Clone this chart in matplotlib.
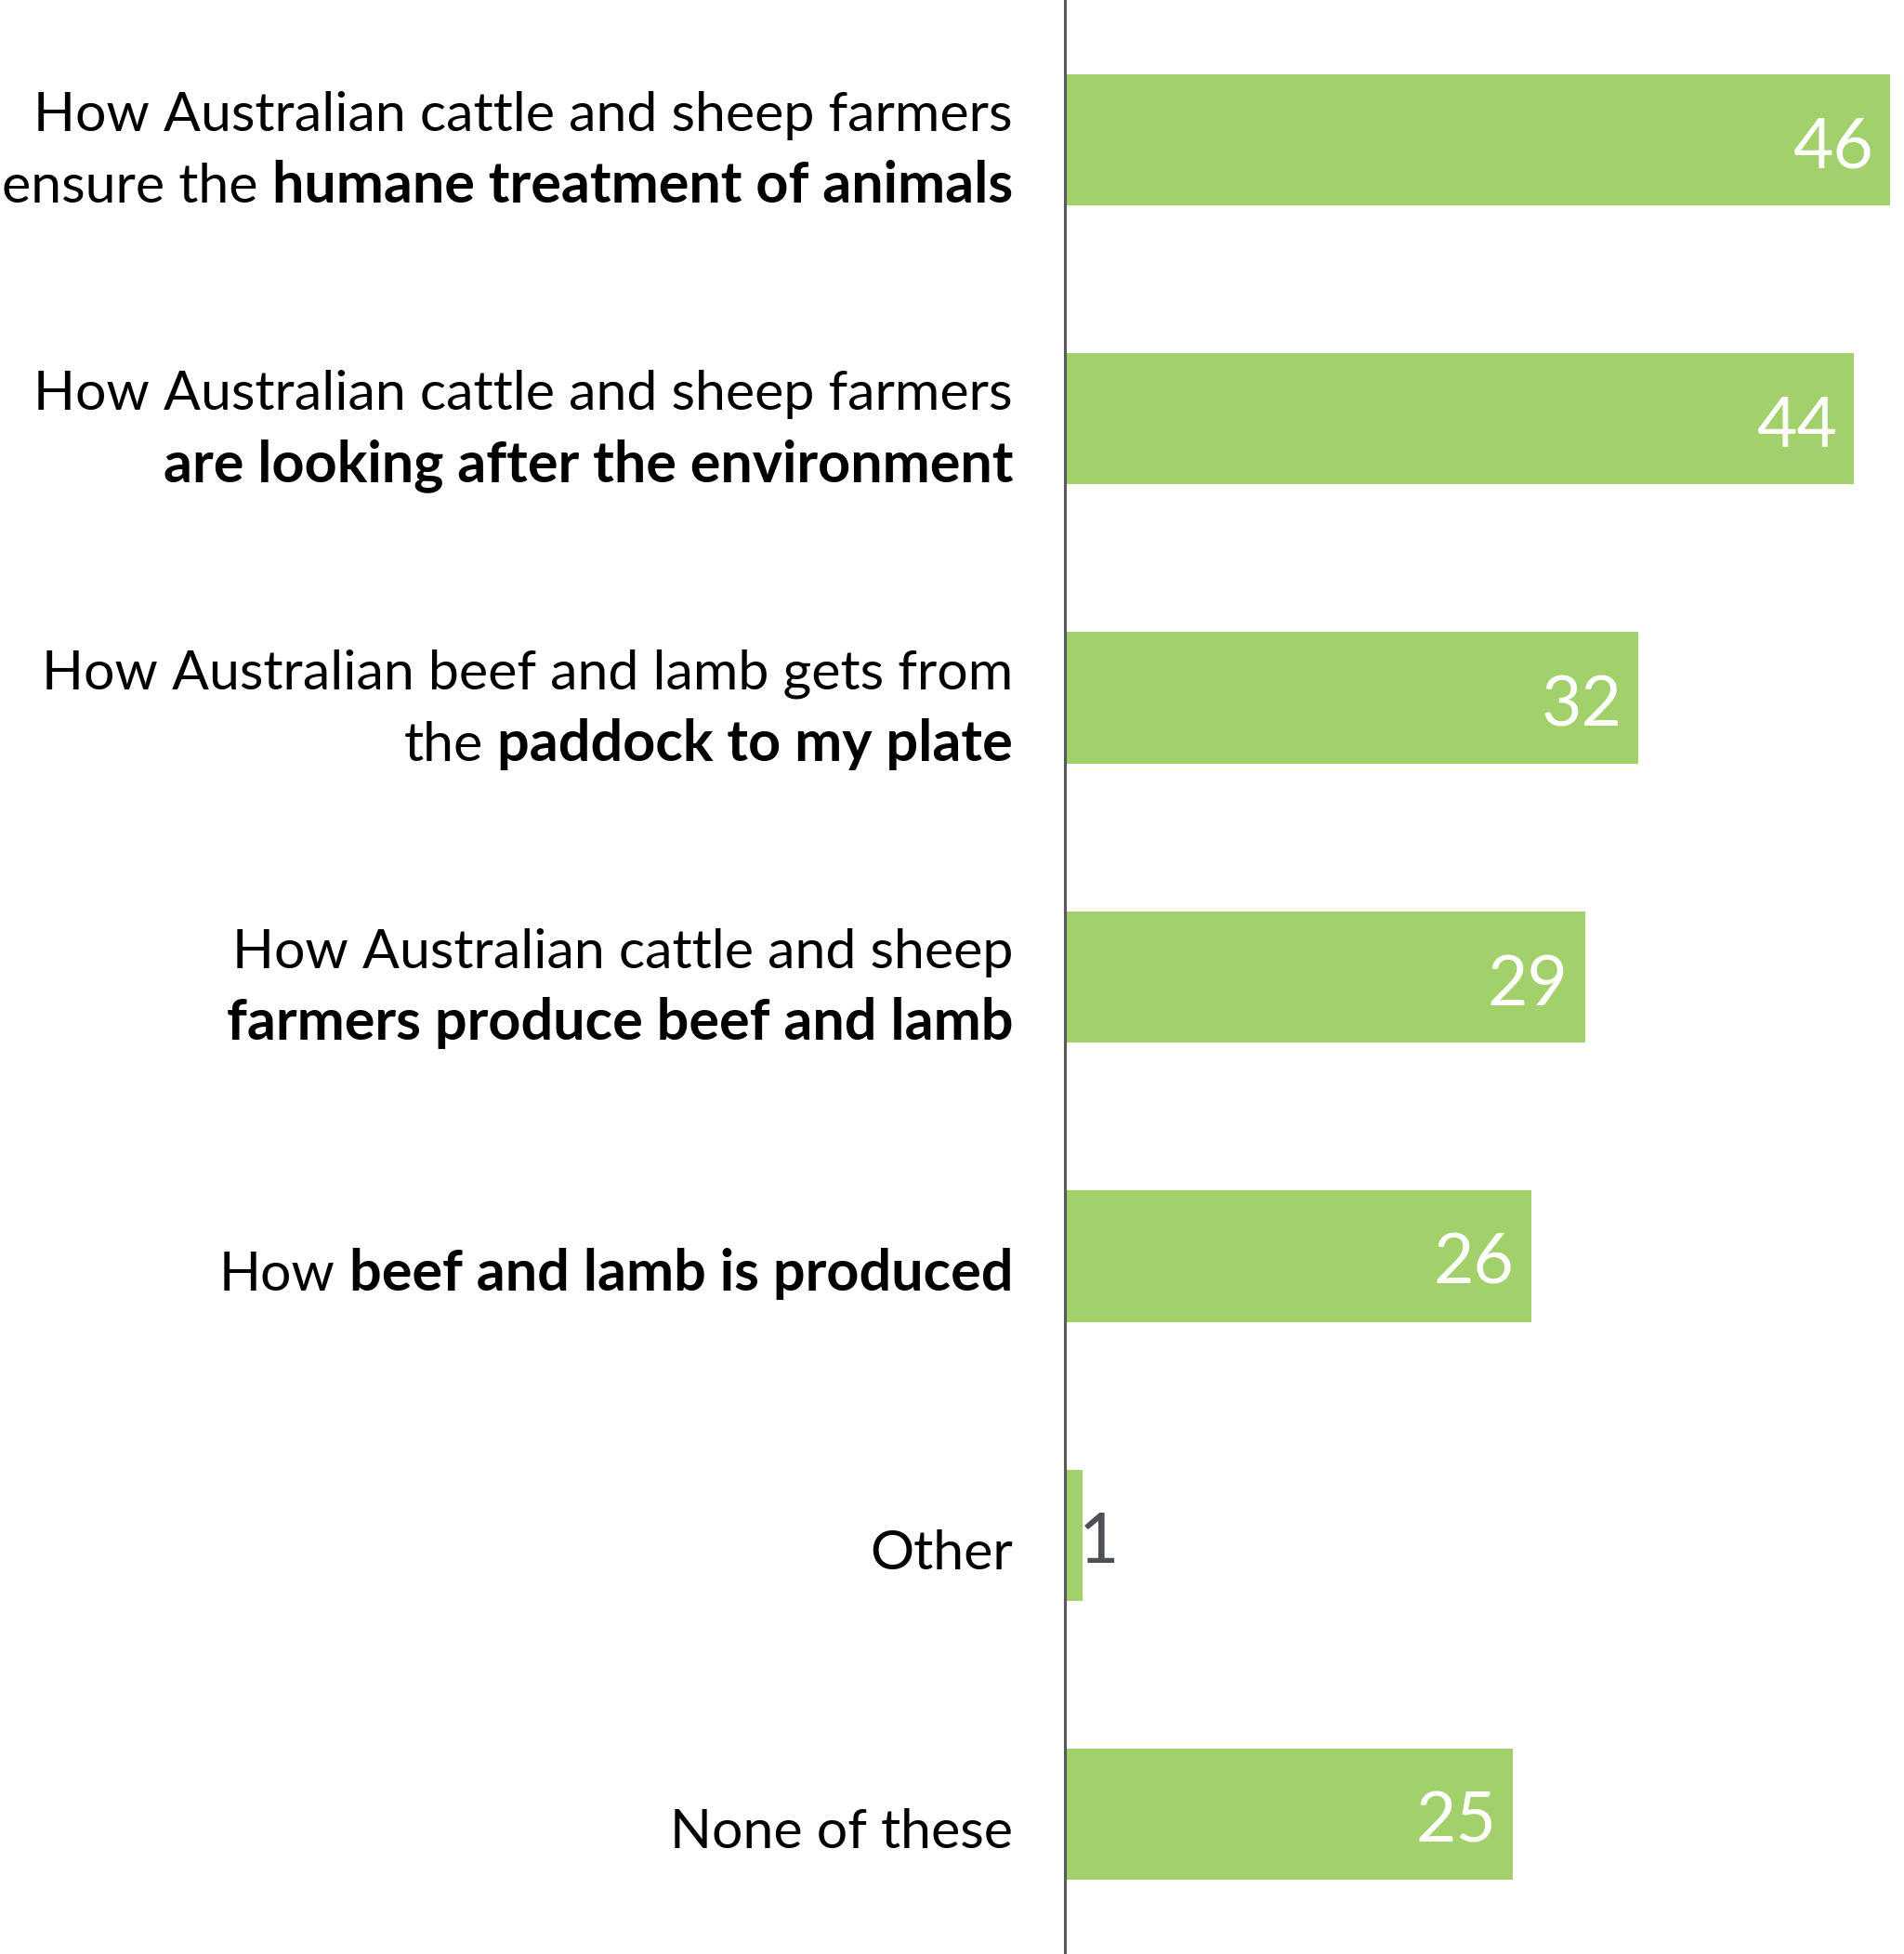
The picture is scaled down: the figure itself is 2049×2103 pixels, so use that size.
import matplotlib
matplotlib.use("Agg")
import matplotlib.pyplot as plt
from matplotlib import transforms

# ---- data ----
categories = [
    "How Australian cattle and sheep farmers ensure the humane treatment of animals",
    "How Australian cattle and sheep farmers are looking after the environment",
    "How Australian beef and lamb gets from the paddock to my plate",
    "How Australian cattle and sheep farmers produce beef and lamb",
    "How beef and lamb is produced",
    "Other",
    "None of these",
]
values = [46, 44, 32, 29, 26, 1, 25]

# label layout: lines of (text, bold) segments
label_lines = [
    [[("How Australian cattle and sheep farmers", False)],
     [("ensure the", False), ("humane treatment of animals", True)]],
    [[("How Australian cattle and sheep farmers", False)],
     [("are looking after the environment", True)]],
    [[("How Australian beef and lamb gets from", False)],
     [("the", False), ("paddock to my plate", True)]],
    [[("How Australian cattle and sheep", False)],
     [("farmers produce beef and lamb", True)]],
    [[("How", False), ("beef and lamb is produced", True)]],
    [[("Other", False)]],
    [[("None of these", False)]],
]

BAR_COLOR = "#A2D06A"
AXIS_COLOR = "#595959"
FONT = "Lato"
LABEL_SIZE = 42.5
BOLD_SIZE = 44
VALUE_SIZE = 54

W, H = 2049, 2103
fig = plt.figure(figsize=(W / 100, H / 100), dpi=100)
x0 = 1146 / W
ax = fig.add_axes([x0, 0, 1 - x0, 1])
y = list(range(len(values)))
ax.barh(y, values, height=0.47, color=BAR_COLOR)
ax.set_xlim(0, 46.8)
ax.set_ylim(6.5, -0.5)
for s in ["top", "right", "bottom"]:
    ax.spines[s].set_visible(False)
ax.spines["left"].set_color(AXIS_COLOR)
ax.spines["left"].set_linewidth(2.2)
ax.set_xticks([])
ax.set_yticks([])

# value labels
for yi, v in zip(y, values):
    if v >= 5:
        ax.text(v, yi + 0.10, str(v), ha="right", va="baseline", color="white",
                fontsize=VALUE_SIZE, family=FONT,
                transform=transforms.offset_copy(ax.transData, fig=fig, x=-18, units="dots"))
    else:
        ax.text(v, yi + 0.10, str(v), ha="left", va="baseline", color="#4D5157",
                fontsize=VALUE_SIZE, family=FONT,
                transform=transforms.offset_copy(ax.transData, fig=fig, x=-4, units="dots"))

# category labels with mixed weights
renderer = fig.canvas.get_renderer()
trans = transforms.blended_transform_factory(fig.transFigure, ax.transData)
xr = 1090 / W
line_step = 0.255


def text_width(s, bold):
    t = fig.text(0, 0, s, fontsize=BOLD_SIZE if bold else LABEL_SIZE, family=FONT,
                 fontweight="bold" if bold else "normal")
    w = t.get_window_extent(renderer).width
    t.remove()
    return w


space_w = text_width("a a", False) - text_width("aa", False)

for yi, lines in zip(y, label_lines):
    n = len(lines)
    if n == 1:
        base = yi + 0.122
    else:
        base = yi + 0.097 - (n - 1) * line_step / 2
    for li, segs in enumerate(lines):
        by = base + li * line_step
        off = 0.0
        for si, (txt, bold) in enumerate(reversed(segs)):
            tr = transforms.offset_copy(trans, fig=fig, x=-off, units="dots")
            t = ax.text(xr, by, txt, ha="right", va="baseline", color="black",
                        fontsize=BOLD_SIZE if bold else LABEL_SIZE, family=FONT,
                        fontweight="bold" if bold else "normal", transform=tr,
                        clip_on=False)
            off += t.get_window_extent(renderer).width + space_w

fig.savefig("out.png", dpi=100)
